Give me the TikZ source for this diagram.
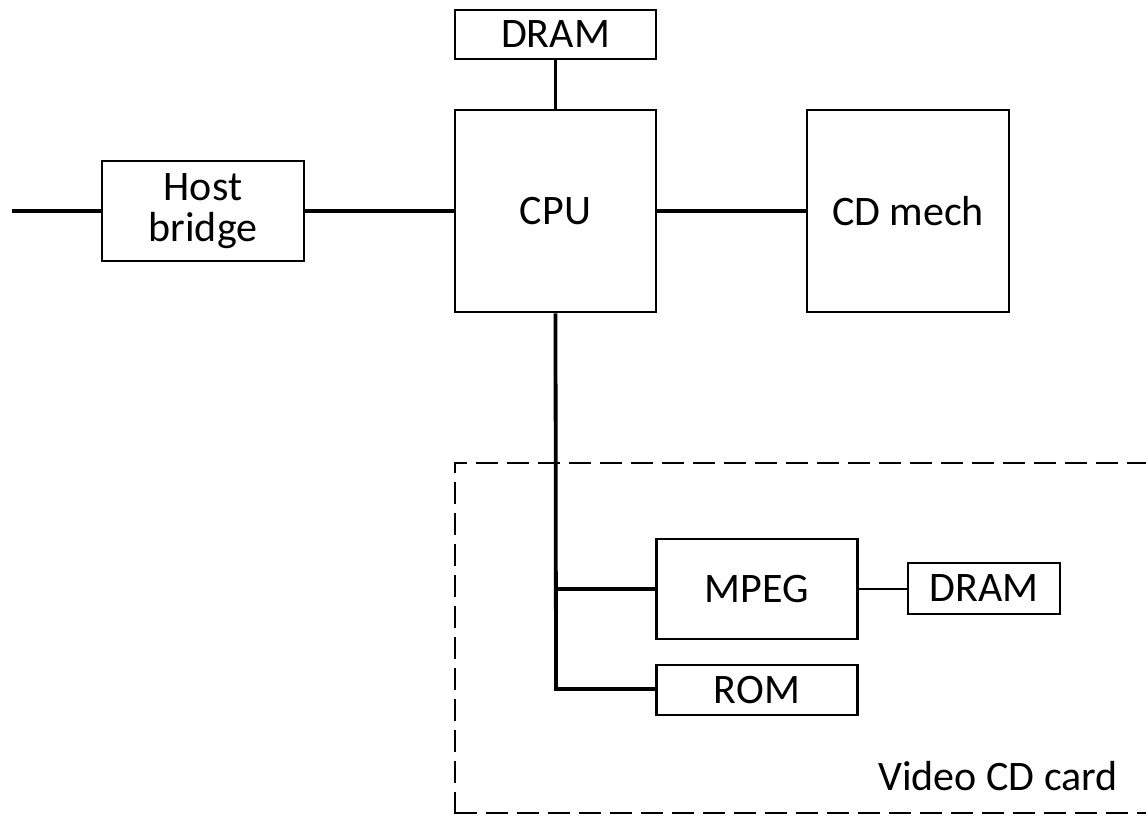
\documentclass[tikz,border=0pt]{standalone}
\usepackage{fontspec}
\setmainfont{Carlito}
\begin{document}
\begin{tikzpicture}[x=1pt,y=-1pt,
  blk/.style={draw,line width=2.6pt,inner sep=0pt,align=center,
    font=\fontsize{42}{41}\selectfont},
  bus/.style={line width=3.8pt},
  thinbus/.style={line width=2.6pt},
  card/.style={line width=2.4pt,dash pattern=on 22pt off 9pt}]
\useasboundingbox (0,0) rectangle (1146,816);
\clip (0,0) rectangle (1146,816);
% processor side
\node[blk,minimum width=201pt,minimum height=49pt] (dram) at (555.5,34.5) {DRAM};
\node[blk,minimum width=201pt,minimum height=202pt] (cpu) at (555.5,211) {CPU};
\node[blk,minimum width=202pt,minimum height=100pt] (host) at (203,211) {Host\\bridge};
\node[blk,minimum width=202pt,minimum height=202pt] (cdm) at (908,211) {CD mech};
\coordinate (hostin) at (12,211);
% video CD card
\draw[card] (455,1000) -- (455,463) -- (1170,463);
\draw[card] (455,813) -- (1170,813);
\node[blk,minimum width=201pt,minimum height=100pt] (mpeg) at (757,589) {MPEG};
\node[blk,minimum width=152pt,minimum height=51pt] (vdram) at (984,588.5) {DRAM};
\node[blk,minimum width=201pt,minimum height=50pt] (rom) at (757,690) {ROM};
\node[font=\fontsize{42}{41}\selectfont,anchor=base] (cardlbl) at (998,790) {Video CD card};
% connections
\coordinate (tap1) at (556,589);
\coordinate (tap2) at (556,689);
\draw[bus] (dram.south) -- (cpu.north);
\draw[bus] (hostin) -- (host.west);
\draw[bus] (host.east) -- (cpu.west);
\draw[bus] (cpu.east) -- (cdm.west);
\draw[bus] (cpu.south) -- (tap2) -- (rom.west |- tap2);
\draw[bus] (tap1) -- (mpeg.west);
\draw[thinbus] (mpeg.east) -- (vdram.west |- mpeg.east);
\end{tikzpicture}
\end{document}
